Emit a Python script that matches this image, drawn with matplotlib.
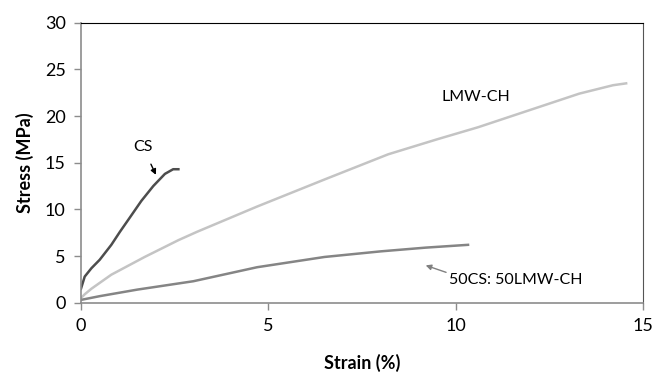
import matplotlib.pyplot as plt

plt.rcParams['font.family'] = ['Lato', 'DejaVu Sans']

# Stress-strain curves
cs_strain = [0, 0.1, 0.28, 0.5, 0.81, 1.04, 1.3, 1.61, 1.93, 2.24, 2.46, 2.6]
cs_stress = [1.5, 2.8, 3.7, 4.6, 6.2, 7.6, 9.1, 10.9, 12.5, 13.8, 14.3, 14.3]

lmw_strain = [0, 0.1, 0.28, 0.81, 1.7, 2.6, 3.1, 4.7, 6.5, 8.2, 9.5, 10.6, 11.5, 12.4, 13.3, 14.2, 14.55]
lmw_stress = [0.5, 0.9, 1.5, 3.0, 4.9, 6.7, 7.6, 10.3, 13.2, 15.9, 17.5, 18.8, 20.0, 21.2, 22.4, 23.3, 23.5]

mix_strain = [0, 0.5, 1.5, 3.0, 4.7, 6.5, 8.0, 9.2, 10.33]
mix_stress = [0.3, 0.7, 1.4, 2.3, 3.8, 4.9, 5.5, 5.9, 6.2]

fig = plt.figure(figsize=(6.52, 3.82), dpi=100)
ax = fig.add_axes([0.1242, 0.2076, 0.862, 0.733])

ax.plot(lmw_strain, lmw_stress, color='#c4c4c4', lw=1.8)
ax.plot(mix_strain, mix_stress, color='#858585', lw=1.8)
ax.plot(cs_strain, cs_stress, color='#4d4d4d', lw=1.8)

ax.set_xlim(0, 15)
ax.set_ylim(0, 30)
ax.set_xticks([0, 5, 10, 15])
ax.set_yticks([0, 5, 10, 15, 20, 25, 30])
ax.tick_params(direction='out', length=5, width=1, color='#8c8c8c', labelsize=13, pad=6)

for s in ['left', 'bottom']:
    ax.spines[s].set_color('#8c8c8c')
    ax.spines[s].set_linewidth(1.2)
ax.spines['top'].set_color('black')
ax.spines['right'].set_color('#555555')

ax.set_xlabel('Strain (%)', fontsize=13, fontweight='bold', labelpad=14)
ax.set_ylabel('Stress (MPa)', fontsize=13, fontweight='bold', labelpad=8)

ax.annotate('CS', xy=(2.0, 13.7), xytext=(1.65, 16.7), fontsize=11.5,
            ha='center', va='center',
            arrowprops=dict(arrowstyle='-|>', color='black', lw=1, shrinkA=6, shrinkB=0,
                            mutation_scale=8))
ax.text(10.55, 22.0, 'LMW-CH', fontsize=11.5, ha='center', va='center')
ax.annotate('50CS: 50LMW-CH', xy=(9.2, 4.0), xytext=(11.6, 2.4), fontsize=11.5,
            ha='center', va='center',
            arrowprops=dict(arrowstyle='-|>', color='#808080', lw=1, shrinkA=0, shrinkB=0,
                            mutation_scale=8, relpos=(0.0, 1.0)))

fig.savefig('out.png', dpi=100)
